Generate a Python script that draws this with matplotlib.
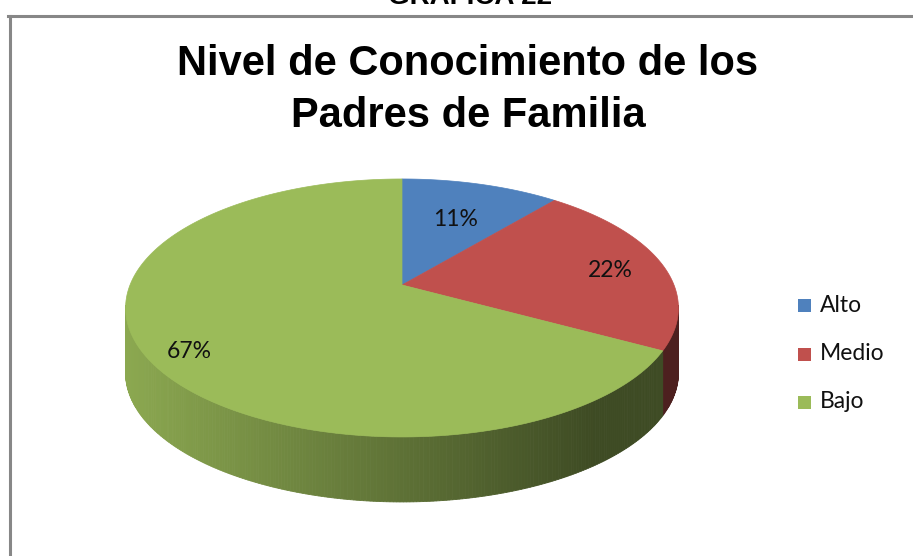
import numpy as np
import matplotlib
matplotlib.use("Agg")
import matplotlib.pyplot as plt
from matplotlib.patches import Polygon, Rectangle
from matplotlib.lines import Line2D

# ---- data ----
categories = ["Alto", "Medio", "Bajo"]
values = [11, 22, 67]
pct_labels = ["11%", "22%", "67%"]
colors = ["#4F81BD", "#C0504D", "#9BBB59"]
title_lines = ["Nivel de Conocimiento de los", "Padres de Familia"]
header = "GRAFICA 22"

# ---- geometry (pixel space) ----
W, H = 913, 556
CX, CY = 402, 285      # apex of top face
A, B, K = 272.0, 124.9, 0.178   # perspective projection params
DEPTH = 65

def proj(phi, r=1.0):
    u = r * np.sin(phi)
    v = -r * np.cos(phi)
    d = 1 - K * v
    return CX + A * u / d, CY + B * v / d

fig = plt.figure(figsize=(W / 100, H / 100), dpi=100)
ax = fig.add_axes([0, 0, 1, 1])
ax.set_xlim(0, W)
ax.set_ylim(H, 0)
ax.axis("off")

total = float(sum(values))
fracs = np.array(values) / total
starts = np.concatenate([[0], np.cumsum(fracs)[:-1]]) * 2 * np.pi
ends = np.cumsum(fracs) * 2 * np.pi

def shade(c, f):
    rgb = np.array(matplotlib.colors.to_rgb(c))
    return tuple(np.clip(rgb * f, 0, 1))

# ---- side wall ----
vis_lo = np.arccos(-K) - 0.02
vis_hi = 2 * np.pi - np.arccos(-K) + 0.02
for s, e, c in zip(starts, ends, colors):
    lo, hi = max(s, vis_lo), min(e, vis_hi)
    if hi <= lo:
        continue
    n = max(2, int((hi - lo) / 0.01))
    ph = np.linspace(lo, hi, n + 1)
    xs, ys = proj(ph)
    for i in range(n):
        xm = 0.5 * (xs[i] + xs[i + 1])
        f = 0.9 - 0.5 * np.clip((xm - 125) / 470.0, 0, 1)
        col = shade(c, f)
        quad = [(xs[i], ys[i]), (xs[i + 1], ys[i + 1]),
                (xs[i + 1], ys[i + 1] + DEPTH), (xs[i], ys[i] + DEPTH)]
        ax.add_patch(Polygon(quad, closed=True, facecolor=col, edgecolor=col,
                             linewidth=0.6, antialiased=True))

# ---- top face ----
for s, e, c in zip(starts, ends, colors):
    ph = np.linspace(s, e, 200)
    xs, ys = proj(ph)
    pts = [(CX, CY)] + list(zip(xs, ys))
    ax.add_patch(Polygon(pts, closed=True, facecolor=c, edgecolor=c,
                         linewidth=0.5, antialiased=True))

# ---- data labels ----
label_r = [0.64, 0.8, 0.84]
label_dy = [2, 4, 9]
for s, e, lab, r, dy in zip(starts, ends, pct_labels, label_r, label_dy):
    x, y = proj(0.5 * (s + e), r)
    ax.text(x, y + dy, lab, ha="center", va="center", fontsize=16.5,
            family="Lato", color="#111111")

# ---- title ----
for i, line in enumerate(title_lines):
    ax.text(468, 75 + 52 * i, line, ha="center", va="baseline", fontsize=30,
            fontweight="bold", family="Liberation Sans")
ax.text(470, 4, header, ha="center", va="baseline", fontsize=20,
        fontweight="bold", family="Liberation Sans")

# ---- legend ----
leg_y = [305, 354, 402]
for cat, c, y in zip(categories, colors, leg_y):
    ax.add_patch(Rectangle((798, y - 6.5), 13, 13, facecolor=c, edgecolor="none"))
    ax.text(820, y, cat, ha="left", va="center", fontsize=16.5, family="Lato",
            color="#111111")

# ---- chart border ----
ax.add_line(Line2D([9.5, 9.5], [16, H], color="#878787", linewidth=2.2))
ax.add_line(Line2D([8.4, W], [16, 16], color="#878787", linewidth=2.2))

fig.savefig("out.png", dpi=100)
